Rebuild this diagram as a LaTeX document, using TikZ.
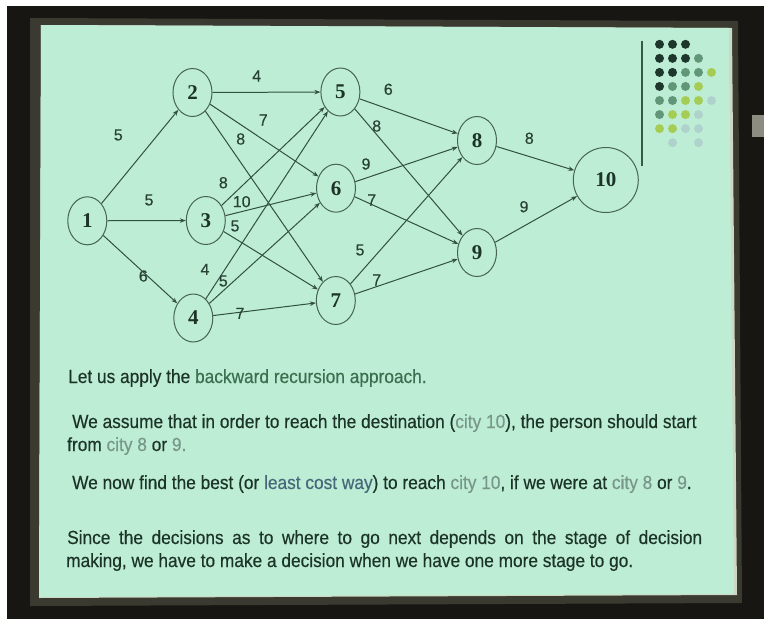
\documentclass[tikz,border=0pt]{standalone}
\usepackage{fontspec}
\setmainfont{Liberation Sans}
\newfontfamily\nodefont{Liberation Serif}
\newfontfamily\txtfont{Liberation Sans}[FakeStretch=0.91,FakeBold=0.4]
\newfontfamily\labfont{Liberation Sans}[FakeBold=0.3]
\usetikzlibrary{shapes.geometric,arrows.meta}
\definecolor{darkbg}{RGB}{24,22,18}
\definecolor{bezel}{RGB}{58,58,48}
\definecolor{slidec}{RGB}{190,237,213}
\definecolor{slideedge}{RGB}{205,215,195}
\definecolor{tabgray}{RGB}{140,140,128}
\definecolor{nodeline}{RGB}{70,100,86}
\definecolor{edgecol}{RGB}{50,80,66}
\definecolor{textdark}{RGB}{28,52,40}
\definecolor{labcol}{RGB}{40,66,54}
\definecolor{greentxt}{RGB}{58,112,80}
\definecolor{graytxt}{RGB}{120,150,138}
\definecolor{bluetxt}{RGB}{70,104,122}
\definecolor{dotD}{RGB}{30,55,44}
\definecolor{dotM}{RGB}{98,150,120}
\definecolor{dotY}{RGB}{165,205,85}
\definecolor{dotF}{RGB}{175,210,205}
\definecolor{vline}{RGB}{55,88,70}
\tikzset{
  city/.style={ellipse, draw=nodeline, line width=1pt, minimum width=39pt,
    minimum height=48pt, inner sep=0pt, text=textdark,
    font={\nodefont\bfseries\fontsize{21pt}{21pt}\selectfont}},
  bigcity/.style={city, minimum width=65pt, minimum height=65pt},
  edge/.style={draw=edgecol, line width=1pt, -{Stealth[length=6pt,width=4.5pt]}},
  elab/.style={text=labcol, inner sep=0pt, font={\labfont\fontsize{16pt}{16pt}\selectfont}},
  txtline/.style={anchor=base west, inner sep=0pt, text=textdark,
    font={\txtfont\fontsize{19pt}{23pt}\selectfont}},
  pdot/.style={circle, inner sep=0pt, minimum size=9pt}
}
\begin{document}
\begin{tikzpicture}[x=1pt,y=-1pt]
\useasboundingbox (0,0) rectangle (764,619);
% photo surroundings
\fill[white] (0,0) rectangle (764,619);
\fill[darkbg] (7,6) rectangle (764,619);
\fill[bezel] (30,18) -- (738,21) -- (742,603) -- (30,606) -- cycle;
\fill[slideedge] (41,25) -- (732,28) -- (737,595) -- (39,598) -- cycle;
\fill[slidec] (41,25) -- (729,28) -- (734,594) -- (39,597) -- cycle;
\fill[tabgray] (752,115) rectangle (764,137);
% decoration
\draw[vline, line width=1.4pt] (642,41) -- (642,166);
\foreach \c/\r/\col in {0/0/dotD,1/0/dotD,2/0/dotD,
  0/1/dotD,1/1/dotD,2/1/dotD,3/1/dotM,
  0/2/dotD,1/2/dotD,2/2/dotM,3/2/dotM,4/2/dotY,
  0/3/dotD,1/3/dotM,2/3/dotM,3/3/dotY,
  0/4/dotM,1/4/dotM,2/4/dotY,3/4/dotY,4/4/dotF,
  0/5/dotM,1/5/dotY,2/5/dotY,3/5/dotF,
  0/6/dotY,1/6/dotY,2/6/dotF,3/6/dotF,
  1/7/dotF,3/7/dotF}
  \node[pdot, fill=\col] (d\c\r) at ({659.5+13*\c},{44.3+14.05*\r}) {};
% cities
\node[city] (n1) at (87.3,220.8) {1};
\node[city] (n2) at (192.5,92.5) {2};
\node[city] (n3) at (205.8,220.5) {3};
\node[city] (n4) at (193.3,318) {4};
\node[city] (n5) at (340.4,92) {5};
\node[city] (n6) at (336,188.2) {6};
\node[city] (n7) at (335.8,300.5) {7};
\node[city] (n8) at (477,140.5) {8};
\node[city] (n9) at (477,252.5) {9};
\node[bigcity] (n10) at (605.8,180) {10};
% connectors
\draw[edge] (n1) -- (n2);
\draw[edge] (n1) -- (n3);
\draw[edge] (n1) -- (n4);
\draw[edge] (n2) -- (n5);
\draw[edge] (n2) -- (n6);
\draw[edge] (n2) -- (n7);
\draw[edge] (n3) -- (n5);
\draw[edge] (n3) -- (n6);
\draw[edge] (n3) -- (n7);
\draw[edge] (n4) -- (n5);
\draw[edge] (n4) -- (n6);
\draw[edge] (n4) -- (n7);
\draw[edge] (n5) -- (n8);
\draw[edge] (n5) -- (n9);
\draw[edge] (n6) -- (n8);
\draw[edge] (n6) -- (n9);
\draw[edge] (n7) -- (n8);
\draw[edge] (n7) -- (n9);
\draw[edge] (n8) -- (n10);
\draw[edge] (n9) -- (n10);
% connector labels
\node[elab] (l12) at (118.3,135) {5};
\node[elab] (l13) at (149,200) {5};
\node[elab] (l14) at (143.3,276) {6};
\node[elab] (l25) at (256.7,76) {4};
\node[elab] (l26) at (263.3,120) {7};
\node[elab] (l27) at (240.7,139) {8};
\node[elab] (l35) at (223.3,182.7) {8};
\node[elab] (l36) at (241.7,201.7) {10};
\node[elab] (l37) at (235,226) {5};
\node[elab] (l45) at (205,269.3) {4};
\node[elab] (l46) at (223.3,281) {5};
\node[elab] (l47) at (240,313.3) {7};
\node[elab] (l58) at (388.3,89.3) {6};
\node[elab] (l59) at (376.7,126) {8};
\node[elab] (l68) at (366,164) {9};
\node[elab] (l69) at (371.7,200) {7};
\node[elab] (l78) at (360,250) {5};
\node[elab] (l79) at (376.7,280) {7};
\node[elab] (l810) at (529.3,138.3) {8};
\node[elab] (l910) at (524,206.7) {9};
% text
\node[txtline] (t1) at (68,383) {Let us apply the \textcolor{greentxt}{backward recursion approach.}};
\node[txtline] (t2) at (72,428) {We assume that in order to reach the destination (\textcolor{graytxt}{city 10}), the person should start};
\node[txtline] (t3) at (67,451) {from \textcolor{graytxt}{city 8} or \textcolor{graytxt}{9.}};
\node[txtline] (t4) at (72,489) {We now find the best (or \textcolor{bluetxt}{least cost way}) to reach \textcolor{graytxt}{city 10}, if we were at \textcolor{graytxt}{city 8} or \textcolor{graytxt}{9}.};
\node[txtline] (t5) at (67,544) {\makebox[635pt][s]{Since the decisions as to where to go next depends on the stage of decision}};
\node[txtline] (t6) at (66,567) {making, we have to make a decision when we have one more stage to go.};
\end{tikzpicture}
\end{document}
